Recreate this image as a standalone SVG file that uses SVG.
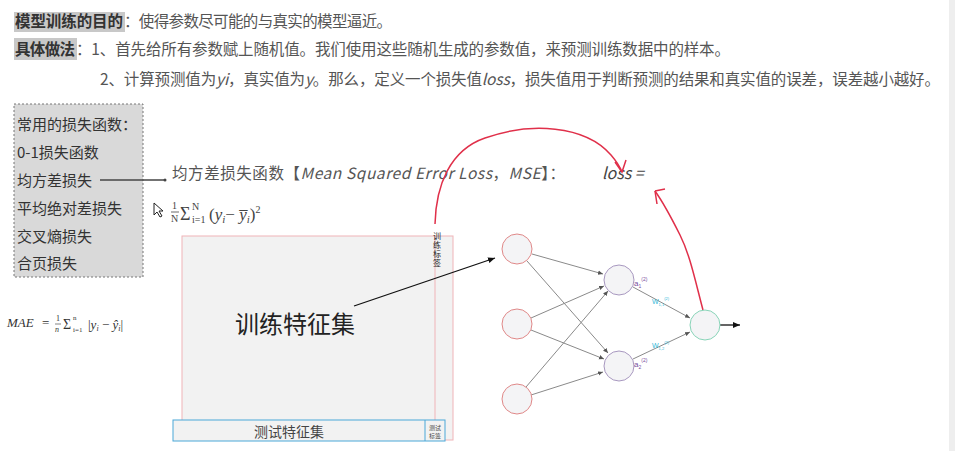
<svg xmlns="http://www.w3.org/2000/svg" width="955" height="451" viewBox="0 0 955 451">
<style>
.cn{font-family:"Noto Sans CJK SC","Liberation Sans",sans-serif;}
.t{font-size:15.5px;fill:#555;}
.hl{fill:#c8c8c8;}
.box{font-size:15px;fill:#333;}
.edge{stroke:#8a8a8a;stroke-width:1;fill:none;marker-end:url(#ga);}
.red{stroke:#e0304a;stroke-width:1.5;fill:none;}
</style>
<defs>
<marker id="ga" markerWidth="6" markerHeight="6" refX="5" refY="3" orient="auto" markerUnits="userSpaceOnUse"><path d="M0,0.8 L5,3 L0,5.2 Z" fill="#555"/></marker>
<marker id="ba" markerWidth="8" markerHeight="8" refX="7" refY="4" orient="auto" markerUnits="userSpaceOnUse"><path d="M0,1 L7,4 L0,7 Z" fill="#111"/></marker>
</defs>
<rect x="0" y="0" width="955" height="451" fill="#fff"/>
<rect x="949" y="0" width="6" height="451" fill="#eeeeee"/>
<g id="header">
<rect class="hl" x="14" y="12" width="111" height="20"/>
<text class="cn t" x="15" y="27" font-weight="bold" style="fill:#333" textLength="108">模型训练的目的</text>
<text class="cn t" x="124" y="27" textLength="268">：使得参数尽可能的与真实的模型逼近。</text>
<rect class="hl" x="14" y="38" width="63" height="22"/>
<text class="cn t" x="15" y="55" font-weight="bold" style="fill:#333" textLength="60">具体做法</text>
<text class="cn t" x="76" y="55" textLength="654">：1、首先给所有参数赋上随机值。我们使用这些随机生成的参数值，来预测训练数据中的样本。</text>
<text class="cn t" x="100" y="85" textLength="840">2、计算预测值为<tspan font-style="italic">yi</tspan>，真实值为<tspan font-style="italic">y</tspan>。那么，定义一个损失值<tspan font-style="italic">loss</tspan>，损失值用于判断预测的结果和真实值的误差，误差越小越好。</text>
</g>
<g id="lossbox">
<rect x="14" y="104" width="129" height="173" fill="#d9d9d9" stroke="#777" stroke-dasharray="2,2"/>
<text class="cn box" x="17" y="130">常用的损失函数：</text>
<text class="cn box" x="17" y="158">0-1损失函数</text>
<text class="cn box" x="17" y="186">均方差损失</text>
<text class="cn box" x="17" y="214">平均绝对差损失</text>
<text class="cn box" x="17" y="242">交叉熵损失</text>
<text class="cn box" x="17" y="269">合页损失</text>
</g>
<g id="mse">
<text class="cn t" x="172" y="179" textLength="393">均方差损失函数【<tspan font-style="italic">Mean Squared Error Loss</tspan>，<tspan font-style="italic">MSE</tspan>】：</text>
<text class="cn" x="602" y="179" font-size="16" fill="#444" font-style="italic">loss =</text>
<path d="M154,203 L154,215 L157,212 L160,217 L162,216 L159,211 L163,211 Z" fill="#fff" stroke="#222" stroke-width="1"/>
<g font-family="Liberation Serif,serif" fill="#444">
<text x="172" y="209" font-size="10">1</text>
<line x1="171" y1="212" x2="179" y2="212" stroke="#444" stroke-width="0.8"/>
<text x="171" y="222" font-size="10">N</text>
<text x="180" y="220" font-size="18">Σ</text>
<text x="192" y="210" font-size="10">N</text>
<text x="192" y="223" font-size="10">i=1</text>
<text x="209" y="220" font-size="17">(<tspan font-style="italic">y</tspan><tspan font-size="11" font-style="italic" dy="3">i</tspan><tspan dy="-3">− </tspan><tspan font-style="italic">y̅</tspan><tspan font-size="11" font-style="italic" dy="3">i</tspan><tspan dy="-3">)</tspan><tspan font-size="10" dy="-7">2</tspan></text>
</g>
</g>
<g id="mae" font-family="Liberation Serif,serif" fill="#333">
<text x="7" y="327" font-size="13" font-style="italic">MAE</text>
<text x="42" y="327" font-size="13">=</text>
<text x="56" y="321" font-size="8">1</text>
<line x1="55" y1="324" x2="61" y2="324" stroke="#333" stroke-width="0.6"/>
<text x="55" y="332" font-size="8" font-style="italic">n</text>
<text x="63" y="329" font-size="14">Σ</text>
<text x="73" y="320" font-size="7">n</text>
<text x="73" y="332" font-size="7">i=1</text>
<text x="88" y="329" font-size="13">|<tspan font-style="italic">y</tspan><tspan font-size="8" font-style="italic" dy="2">i</tspan><tspan dy="-2"> − </tspan><tspan font-style="italic">ŷ</tspan><tspan font-size="8" font-style="italic" dy="2">i</tspan><tspan dy="-2">|</tspan></text>
</g>
<g id="trainset">
<rect x="182" y="236" width="271" height="204" fill="#f2f2f2" stroke="#f0b4b8" stroke-width="1"/>
<line x1="435" y1="236" x2="435" y2="420" stroke="#f0b4b8" stroke-width="1"/>
<text class="cn" x="235" y="333" font-size="24" fill="#222">训练特征集</text>
</g>
<g id="trainlabel">
<text class="cn" x="437" y="232" font-size="8" fill="#222" writing-mode="tb" letter-spacing="1">训练标签</text>
</g>
<g id="testset">
<rect x="173" y="420" width="272" height="21" fill="#f2f2f2" stroke="#4aa8d8" stroke-width="1"/>
<line x1="425" y1="420" x2="425" y2="441" stroke="#4aa8d8" stroke-width="1"/>
<text class="cn" x="254" y="437" font-size="14" fill="#444">测试特征集</text>
<text class="cn" x="435" y="430" font-size="6" fill="#444" text-anchor="middle">测试</text>
<text class="cn" x="435" y="438" font-size="6" fill="#444" text-anchor="middle">标签</text>
</g>
<g id="connectors">
<line x1="100" y1="180" x2="164" y2="180" stroke="#444" stroke-width="1.5"/>
<circle cx="165" cy="180" r="1.5" fill="#444"/>
<line x1="354" y1="306" x2="495" y2="258" stroke="#111" stroke-width="1.3" marker-end="url(#ba)"/>
<line x1="532" y1="254" x2="603" y2="274" class="edge"/>
<line x1="527" y1="261" x2="608" y2="353" class="edge"/>
<line x1="531" y1="318" x2="604" y2="286" class="edge"/>
<line x1="531" y1="330" x2="604" y2="359" class="edge"/>
<line x1="526" y1="387" x2="608" y2="291" class="edge"/>
<line x1="531" y1="395" x2="603" y2="372" class="edge"/>
<line x1="633" y1="287" x2="690" y2="318" class="edge"/>
<line x1="633" y1="359" x2="690" y2="332" class="edge"/>
<line x1="720" y1="325" x2="740" y2="325" stroke="#111" stroke-width="1.3" marker-end="url(#ba)"/>
<path class="red" d="M435,224 C436,185 450,150 485,138 C530,122 585,125 611,155 C617,162 620,167 622,172"/>
<path d="M615,162 L622,172 L626,160" fill="none" stroke="#e0304a" stroke-width="1.5"/>
<path class="red" d="M703,310 C695,280 690,255 680,235 C670,215 665,205 655,191"/>
<path d="M655,191 L657,204 M655,191 L665,189" fill="none" stroke="#e0304a" stroke-width="1.5"/>
</g>
<g id="in1"><circle cx="517" cy="249" r="15" fill="#f4f4f6" stroke="#e08888" stroke-width="1"/></g>
<g id="in2"><circle cx="517" cy="324" r="15" fill="#f4f4f6" stroke="#e08888" stroke-width="1"/></g>
<g id="in3"><circle cx="517" cy="399" r="15" fill="#f4f4f6" stroke="#e08888" stroke-width="1"/></g>
<g id="h1"><circle cx="619" cy="280" r="15" fill="#f4f4f6" stroke="#a898c0" stroke-width="1"/>
<text x="634" y="286" font-family="Liberation Sans,sans-serif" font-size="8" fill="#7a4fa0">a<tspan font-size="5" dy="2">1</tspan><tspan font-size="5" dy="-7">(2)</tspan></text></g>
<g id="h2"><circle cx="619" cy="366" r="15" fill="#f4f4f6" stroke="#a898c0" stroke-width="1"/>
<text x="634" y="367" font-family="Liberation Sans,sans-serif" font-size="8" fill="#7a4fa0">a<tspan font-size="5" dy="2">2</tspan><tspan font-size="5" dy="-7">(2)</tspan></text></g>
<g id="out"><circle cx="705" cy="325" r="15" fill="#f4f4f6" stroke="#88d4b8" stroke-width="1"/></g>
<g id="wlabels" font-family="Liberation Sans,sans-serif" font-size="7" fill="#33b8d8">
<text x="652" y="304">W<tspan font-size="4" dy="2">1,1</tspan><tspan font-size="4" dy="-6">(2)</tspan></text>
<text x="652" y="348">W<tspan font-size="4" dy="2">1,2</tspan><tspan font-size="4" dy="-6">(2)</tspan></text>
</g>
</svg>
